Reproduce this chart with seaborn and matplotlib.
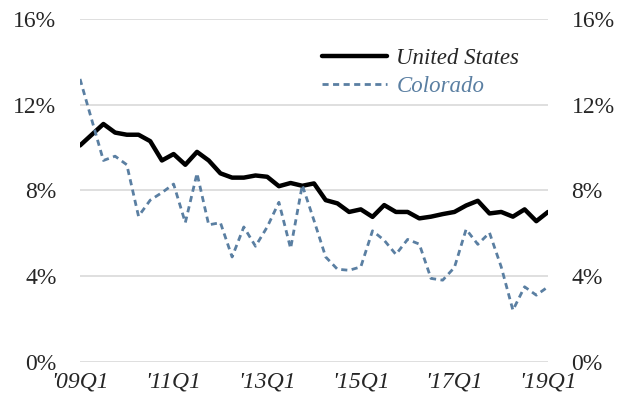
import matplotlib
matplotlib.use("Agg")
import matplotlib.pyplot as plt
import seaborn as sns
import pandas as pd
import numpy as np

# quarterly rates, '09Q1 .. '19Q1
quarters = [f"'{y % 100:02d}Q{q}" for y in range(2009, 2020) for q in range(1, 5)][:41]
us_rate = [10.1, 10.6, 11.1, 10.7, 10.6, 10.6, 10.3, 9.4, 9.7, 9.2,
           9.8, 9.4, 8.8, 8.6, 8.6, 8.7, 8.64, 8.2, 8.35, 8.22,
           8.33, 7.55, 7.4, 7.0, 7.12, 6.77, 7.32, 7.0, 7.0, 6.7,
           6.78, 6.9, 7.0, 7.3, 7.52, 6.93, 7.0, 6.78, 7.12, 6.57,
           7.0]
co_rate = [13.2, 11.3, 9.4, 9.6, 9.2, 6.8, 7.55, 7.9, 8.3, 6.5,
           8.8, 6.4, 6.5, 4.9, 6.3, 5.4, 6.3, 7.45, 5.3, 8.25,
           6.6, 4.9, 4.33, 4.28, 4.44, 6.12, 5.68, 5.02, 5.72, 5.5,
           3.9, 3.82, 4.41, 6.19, 5.49, 6.03, 4.44, 2.42, 3.51, 3.12,
           3.51]
y_ticks = [0, 4, 8, 12, 16]

df = pd.DataFrame({"q": np.arange(len(quarters)), "United States": us_rate, "Colorado": co_rate})

sns.set_style("white")
plt.rcParams['font.family'] = ['Liberation Serif', 'DejaVu Serif']

blue = "#5a7fa2"
fig = plt.figure(figsize=(6.35, 4.11), dpi=100)
ax = fig.add_axes([0.126, 0.119, 0.737, 0.835])

sns.lineplot(data=df, x="q", y="United States", ax=ax, color="black", linewidth=3.2,
             label="United States")
sns.lineplot(data=df, x="q", y="Colorado", ax=ax, color=blue, linewidth=2.0,
             dashes=False, label="Colorado")
ax.lines[1].set_dashes((2.2, 1.6))

ax.set_xlim(0, len(quarters) - 1)
ax.set_ylim(0, 16)
ax.set_yticks(y_ticks)
ax.set_yticklabels([f"{v}%" for v in y_ticks])
xt = list(range(0, len(quarters), 8))
ax.set_xticks(xt)
ax.set_xticklabels([quarters[i] for i in xt], fontstyle="italic")
ax.set_xlabel("")
ax.set_ylabel("")

ax.grid(axis="y", color="#d9d9d9", linewidth=1.2)
ax.set_axisbelow(True)
for s in ax.spines.values():
    s.set_visible(False)
ax.tick_params(axis="y", length=0, labelsize=17, pad=17, labelright=True)
ax.tick_params(axis="x", length=0, labelsize=17, pad=7)

leg = ax.legend(loc="upper left", bbox_to_anchor=(0.473, 0.975), frameon=False,
                handlelength=2.85, handletextpad=0.4, labelspacing=0.3,
                prop={"style": "italic", "size": 16.5})
leg.get_texts()[1].set_color(blue)

fig.savefig("out.png", dpi=100)
